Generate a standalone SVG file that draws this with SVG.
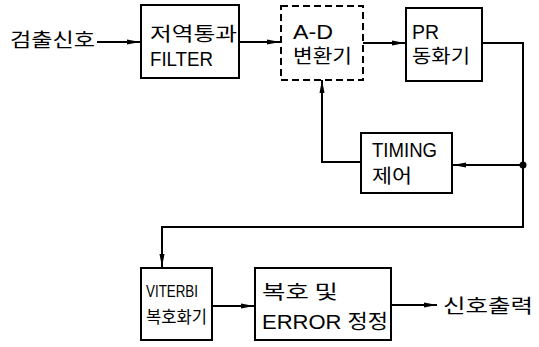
<svg xmlns="http://www.w3.org/2000/svg" width="539" height="347" viewBox="0 0 539 347">
<style>
.box{fill:#fff;stroke:#000;stroke-width:2}
.dash{stroke-dasharray:7,4}
.ln{fill:none;stroke:#000;stroke-width:2}
.t{font-family:"Liberation Sans","Noto Sans CJK KR",sans-serif;font-size:20px;fill:#000}
.k{font-family:"Noto Sans CJK KR","Liberation Sans",sans-serif;font-size:19px;fill:#000}
.s{font-size:17px}
</style>
<defs>
<marker id="ah" markerWidth="14" markerHeight="8" refX="13" refY="4" orient="auto" markerUnits="userSpaceOnUse">
<path d="M0,1.5 L13,4 L0,6.5 Z" fill="#000"/>
</marker>
</defs>
<rect width="539" height="347" fill="#fff"/>
<g id="connectors">
<line class="ln" x1="97" y1="42" x2="140" y2="42" marker-end="url(#ah)"/>
<line class="ln" x1="239" y1="42" x2="280" y2="42" marker-end="url(#ah)"/>
<line class="ln" x1="363" y1="43" x2="405" y2="43" marker-end="url(#ah)"/>
<polyline class="ln" points="482,43 523,43 523,227 162,227 162,267" marker-end="url(#ah)"/>
<line class="ln" x1="523" y1="165" x2="453" y2="165" marker-end="url(#ah)"/>
<polyline class="ln" points="361,162 322,162 322,80" marker-end="url(#ah)"/>
<line class="ln" x1="212" y1="306" x2="254" y2="306" marker-end="url(#ah)"/>
<line class="ln" x1="391" y1="305" x2="437" y2="305" marker-end="url(#ah)"/>
<circle cx="523" cy="165" r="3.5" fill="#000"/>
</g>
<g id="input"><text class="k" x="10" y="47" textLength="85" lengthAdjust="spacingAndGlyphs">검출신호</text></g>
<g id="lpf">
<rect class="box" x="141" y="5" width="98" height="73"/>
<text class="k" x="150" y="41" textLength="87" lengthAdjust="spacingAndGlyphs">저역통과</text>
<text class="t" x="150" y="66" textLength="63" lengthAdjust="spacingAndGlyphs">FILTER</text>
</g>
<g id="adc">
<rect class="box dash" x="281" y="6" width="82" height="74"/>
<text class="t" x="293" y="39" textLength="40" lengthAdjust="spacingAndGlyphs">A-D</text>
<text class="k" x="293" y="63" textLength="59" lengthAdjust="spacingAndGlyphs">변환기</text>
</g>
<g id="pr">
<rect class="box" x="406" y="8" width="76" height="73"/>
<text class="t" x="412" y="39" textLength="27" lengthAdjust="spacingAndGlyphs">PR</text>
<text class="k" x="412" y="63" textLength="58" lengthAdjust="spacingAndGlyphs">동화기</text>
</g>
<g id="timing">
<rect class="box" x="361" y="133" width="91" height="60"/>
<text class="t" x="372" y="157" textLength="65" lengthAdjust="spacingAndGlyphs">TIMING</text>
<text class="k" x="372" y="183" textLength="40" lengthAdjust="spacingAndGlyphs">제어</text>
</g>
<g id="viterbi">
<rect class="box" x="141" y="268" width="71" height="72"/>
<text class="t s" x="146" y="297" textLength="52" lengthAdjust="spacingAndGlyphs">VITERBI</text>
<text class="k s" x="146" y="323" textLength="61" lengthAdjust="spacingAndGlyphs">복호화기</text>
</g>
<g id="ecc">
<rect class="box" x="255" y="268" width="136" height="72"/>
<text class="k" x="262" y="299" textLength="76" lengthAdjust="spacingAndGlyphs">복호  및</text>
<text class="t" x="262" y="329" textLength="126" lengthAdjust="spacingAndGlyphs">ERROR  정정</text>
</g>
<g id="output"><text class="k" x="443" y="313" textLength="90" lengthAdjust="spacingAndGlyphs">신호출력</text></g>
</svg>
